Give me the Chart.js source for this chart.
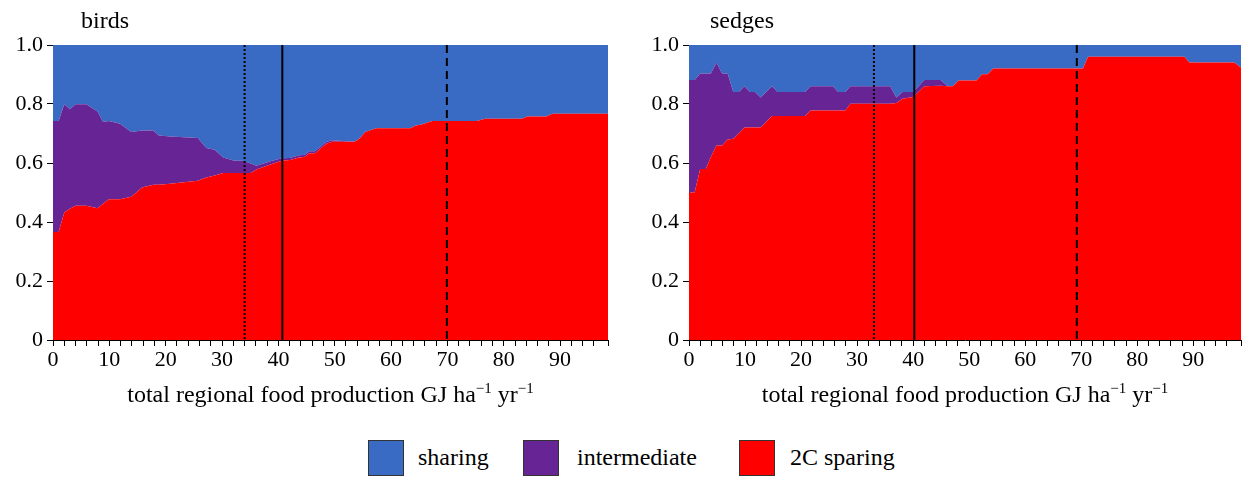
<!DOCTYPE html>
<html>
<head>
<meta charset="utf-8">
<script src="https://cdn.jsdelivr.net/npm/chart.js@4.4.0/dist/chart.umd.min.js"></script>
<style>
  body { margin: 0; background: #fff; width: 1244px; height: 477px; position: relative; overflow: hidden; font-family: "Liberation Serif", "Times New Roman", Times, "DejaVu Serif", serif; }
  .panel { position: absolute; top: 0; }
  .box { position: absolute; top: 440px; width: 34px; height: 34px; border: 1px solid #333; }
  .lab { position: absolute; top: 443px; font-size: 24px; line-height: 28px; color: #000; }
</style>
</head>
<body>
<canvas id="birds" class="panel" style="left:0px" width="622" height="420"></canvas>
<canvas id="sedges" class="panel" style="left:636px" width="608" height="420"></canvas>

<div class="box" style="left:368px;background:#3a6bc4"></div><div class="lab" style="left:418px">sharing</div>
<div class="box" style="left:523px;background:#662494"></div><div class="lab" style="left:577px">intermediate</div>
<div class="box" style="left:739px;background:#ff0000"></div><div class="lab" style="left:790px">2C sparing</div>

<script>
// birds panel
const birdsX = [0, 1, 2, 3, 4, 5.9, 7.9, 8.9, 9.9, 11.9, 13.9, 15.8, 17.8, 18.8, 20.8, 25.7, 27.2, 28.7, 30.2, 32.2, 33.7, 35.1, 36.1, 38.6, 40.6, 42.1, 43.6, 44.6, 45.5, 46.5, 48.5, 49.5, 53.5, 54.4, 55.4, 57.4, 63.4, 64.4, 65.3, 67.3, 75.2, 76.7, 83.2, 84.2, 87.6, 88.6, 98.5];
const birdsSparing = [0.366, 0.366, 0.432, 0.445, 0.455, 0.455, 0.447, 0.462, 0.477, 0.477, 0.486, 0.517, 0.526, 0.526, 0.53, 0.54, 0.551, 0.558, 0.566, 0.566, 0.566, 0.566, 0.578, 0.595, 0.608, 0.61, 0.619, 0.62, 0.633, 0.633, 0.665, 0.672, 0.672, 0.682, 0.705, 0.718, 0.718, 0.727, 0.73, 0.742, 0.742, 0.75, 0.75, 0.758, 0.758, 0.767, 0.767];
const birdsIntermediate = [0.376, 0.376, 0.367, 0.337, 0.344, 0.344, 0.328, 0.277, 0.265, 0.256, 0.219, 0.193, 0.184, 0.167, 0.16, 0.145, 0.1, 0.087, 0.053, 0.042, 0.042, 0.032, 0.013, 0.011, 0.008, 0.007, 0.007, 0.007, 0.007, 0.007, 0.006, 0.005, 0, 0, 0, 0, 0, 0, 0, 0, 0, 0, 0, 0, 0, 0, 0];
const birdsSharing = [0.258, 0.258, 0.201, 0.218, 0.201, 0.201, 0.225, 0.261, 0.258, 0.267, 0.295, 0.29, 0.29, 0.307, 0.31, 0.315, 0.349, 0.355, 0.381, 0.392, 0.392, 0.402, 0.409, 0.394, 0.384, 0.383, 0.374, 0.373, 0.36, 0.36, 0.329, 0.323, 0.328, 0.318, 0.295, 0.282, 0.282, 0.273, 0.27, 0.258, 0.258, 0.25, 0.25, 0.242, 0.242, 0.233, 0.233];

// sedges panel
const sedgesX = [0, 1, 2, 3, 3.9, 4.9, 5.9, 6.9, 7.9, 8.9, 9.9, 10.9, 11.8, 12.8, 14.8, 15.8, 20.7, 21.7, 25.7, 26.6, 27.9, 28.8, 35.9, 37, 38.1, 40, 42, 44.9, 46.1, 47.1, 48.1, 51.3, 52.3, 53.3, 54.3, 70.3, 71.2, 88.4, 89.3, 97.3, 98.5];
const sedgesSparing = [0.5, 0.5, 0.58, 0.58, 0.62, 0.659, 0.659, 0.68, 0.682, 0.7, 0.72, 0.72, 0.72, 0.72, 0.759, 0.759, 0.759, 0.778, 0.778, 0.778, 0.778, 0.801, 0.801, 0.803, 0.818, 0.824, 0.86, 0.862, 0.86, 0.86, 0.88, 0.88, 0.901, 0.901, 0.92, 0.92, 0.96, 0.96, 0.941, 0.941, 0.924];
const sedgesIntermediate = [0.381, 0.381, 0.323, 0.323, 0.283, 0.281, 0.244, 0.223, 0.159, 0.141, 0.14, 0.121, 0.121, 0.102, 0.101, 0.082, 0.082, 0.082, 0.082, 0.063, 0.063, 0.059, 0.059, 0.019, 0.023, 0.017, 0.021, 0.019, 0.002, 0, 0, 0, 0, 0, 0, 0, 0, 0, 0, 0, 0];
const sedgesSharing = [0.119, 0.119, 0.097, 0.097, 0.097, 0.06, 0.097, 0.097, 0.159, 0.159, 0.14, 0.159, 0.159, 0.178, 0.14, 0.159, 0.159, 0.14, 0.14, 0.159, 0.159, 0.14, 0.14, 0.178, 0.159, 0.159, 0.119, 0.119, 0.138, 0.14, 0.12, 0.12, 0.099, 0.099, 0.08, 0.08, 0.04, 0.04, 0.059, 0.059, 0.076];

const yTicks = ['0', '0.2', '0.4', '0.6', '0.8', '1.0'];

const BLUE = '#3a6bc4';
const PURPLE = '#662494';
const RED = '#ff0000';
const FONT = '"Liberation Serif", "Times New Roman", Times, "DejaVu Serif", serif';

function toPoints(xs, ys) {
    return xs.map((x, i) => ({x: x, y: ys[i]}));
}

// vertical reference lines, panel title and axis title
const extras = {
    id: 'extras',
    afterDatasetsDraw(chart, args, opts) {
        const {ctx, chartArea, scales} = chart;
        ctx.save();
        ctx.strokeStyle = '#000';
        opts.lines.forEach(l => {
            let x = scales.x.getPixelForValue(l.value);
            ctx.lineWidth = l.width;
            ctx.setLineDash(l.dash);
            ctx.beginPath();
            ctx.moveTo(x, chartArea.top);
            ctx.lineTo(x, chartArea.bottom);
            ctx.stroke();
        });
        ctx.restore();
    },
    afterDraw(chart, args, opts) {
        const {ctx, chartArea} = chart;
        ctx.save();
        ctx.fillStyle = '#000';
        ctx.textBaseline = 'alphabetic';
        ctx.font = '24px ' + FONT;
        ctx.fillText(opts.title, chartArea.left + opts.titleDx, 28);

        // x axis title with superscripts
        let parts = [['total regional food production GJ ha', false], ['\u22121', true], [' yr', false], ['\u22121', true]];
        let total = 0;
        parts.forEach(p => {
            ctx.font = (p[1] ? '15px ' : '24px ') + FONT;
            total += ctx.measureText(p[0]).width;
        });
        let x = (chartArea.left + chartArea.right) / 2 - total / 2;
        parts.forEach(p => {
            ctx.font = (p[1] ? '15px ' : '24px ') + FONT;
            ctx.fillText(p[0], x, p[1] ? 393 : 402);
            x += ctx.measureText(p[0]).width;
        });
        ctx.restore();
    }
};

function makeChart(id, xs, sparing, intermediate, sharing, title, titleDx, lines, padRight) {
    let ctx = document.getElementById(id);
    new Chart(ctx, {
        type: 'line',
        data: {
            datasets: [
                {label: '2C sparing', data: toPoints(xs, sparing), backgroundColor: RED, borderColor: RED, borderWidth: 0, pointRadius: 0, fill: 'origin'},
                {label: 'intermediate', data: toPoints(xs, intermediate), backgroundColor: PURPLE, borderColor: PURPLE, borderWidth: 0, pointRadius: 0, fill: '-1'},
                {label: 'sharing', data: toPoints(xs, sharing), backgroundColor: BLUE, borderColor: BLUE, borderWidth: 0, pointRadius: 0, fill: '-1'}
            ]
        },
        options: {
            responsive: false,
            animation: false,
            devicePixelRatio: 1,
            layout: {padding: {top: 45, right: padRight, left: 0, bottom: 0}},
            plugins: {
                legend: {display: false},
                tooltip: {enabled: false},
                extras: {title: title, titleDx: titleDx, lines: lines}
            },
            scales: {
                x: {
                    type: 'linear',
                    min: 0,
                    max: 98.5,
                    grid: {drawOnChartArea: false, tickLength: 6, color: '#000'},
                    border: {color: '#000'},
                    ticks: {
                        stepSize: 2,
                        autoSkip: false,
                        maxRotation: 0,
                        padding: 1,
                        color: '#000',
                        font: {family: FONT, size: 22},
                        callback: v => (v % 10 === 0 ? String(v) : '')
                    },
                    afterFit: s => { s.height = 80; }
                },
                y: {
                    stacked: true,
                    min: 0,
                    max: 1,
                    grid: {drawOnChartArea: false, tickLength: 6, color: '#000'},
                    border: {color: '#000'},
                    ticks: {
                        stepSize: 0.2,
                        padding: 4,
                        color: '#000',
                        font: {family: FONT, size: 22},
                        callback: (v, i) => yTicks[i]
                    },
                    afterFit: s => { s.width = 53; }
                }
            }
        },
        plugins: [extras]
    });
}

makeChart('birds', birdsX, birdsSparing, birdsIntermediate, birdsSharing, 'birds', 28, [
    {value: 34, dash: [2, 2], width: 2},
    {value: 40.7, dash: [], width: 2},
    {value: 69.9, dash: [8, 5], width: 2}
], 14);

makeChart('sedges', sedgesX, sedgesSparing, sedgesIntermediate, sedgesSharing, 'sedges', 21, [
    {value: 33, dash: [2, 2], width: 2},
    {value: 40.2, dash: [], width: 2},
    {value: 69.2, dash: [8, 5], width: 2}
], 3);
</script>
</body>
</html>
